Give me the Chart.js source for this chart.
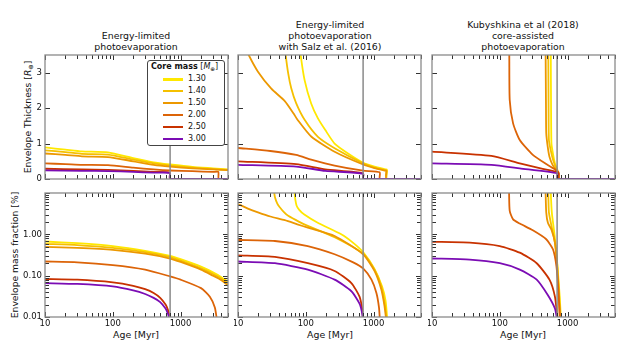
<!DOCTYPE html>
<html>
<head>
<meta charset="utf-8">
<script src="https://cdn.jsdelivr.net/npm/chart.js@4.4.0/dist/chart.umd.min.js"></script>
<style>
  body { margin: 0; background: #fff; font-family: "DejaVu Sans", sans-serif; color: #111; }
  #wrap { position: relative; width: 623px; height: 351px; overflow: hidden; background: #fff; }
  canvas { position: absolute; }
  .title { position: absolute; width: 200px; text-align: center; font-size: 9.4px; line-height: 10.8px; }
  .xlab { position: absolute; top: 329px; width: 120px; text-align: center; font-size: 9.4px; }
  .ylab { position: absolute; white-space: nowrap; font-size: 9.2px; transform: translate(-50%, -50%) rotate(-90deg); }
  #legend { position: absolute; left: 147px; top: 60px; width: 76px; height: 84px; background: #fff;
            border: 1px solid #444; border-radius: 3px; z-index: 5; font-size: 8px; }
  #legend .head { position: absolute; left: 3px; top: 1px; white-space: nowrap; }
  #legend .row { position: absolute; left: 0; height: 12px; }
  #legend .swatch { position: absolute; left: 15px; top: 5px; width: 20px; height: 2.5px; }
  #legend .txt { position: absolute; left: 40px; top: 0; line-height: 12px; }
  sub { font-size: 70%; vertical-align: -2px; line-height: 0; }
</style>
</head>
<body>
<div id="wrap">
  <div class="title" style="left:36px; top:31px;">Energy-limited<br>photoevaporation</div>
  <div class="title" style="left:230px; top:20px;">Energy-limited<br>photoevaporation<br>with Salz et al. (2016)</div>
  <div class="title" style="left:423px; top:20px;">Kubyshkina et al (2018)<br>core-assisted<br>photoevaporation</div>
  <div class="ylab" style="left:27px; top:117px;">Envelope Thickness [<i>R</i><sub>⊕</sub>]</div>
  <div class="ylab" style="left:14px; top:255px;">Envelope mass fraction [%]</div>
  <div class="xlab" style="left:76px;">Age [Myr]</div>
  <div class="xlab" style="left:270px;">Age [Myr]</div>
  <div class="xlab" style="left:463px;">Age [Myr]</div>
  <div id="legend"><div class="head"><b>Core mass</b> [<i>M</i><sub>⊕</sub>]</div></div>
</div>
<script>
// --- data: [age Myr, value] ---
const coreMasses = ["1.30", "1.40", "1.50", "2.00", "2.50", "3.00"];
const lineColours = ["#ffe800", "#f5c000", "#ec9800", "#dc6408", "#c83200", "#7b0cb4"];
const systemAge = 700;
const ageRange = [10, 5000];
const ageTickLabels = [10, 100, 1000];
const thicknessRange = [0, 3.5];
const thicknessTickLabels = [0, 1, 2, 3];
const fractionRange = [0.01, 10];
const fractionTickLabels = [0.01, 0.1, 1];

// Envelope thickness [R_earth], energy-limited
const thickEnergy = [
  [[10,0.89],[20,0.83],[35,0.78],[85,0.75],[200,0.59],[400,0.47],[700,0.41],[1500,0.34],[3000,0.30],[5000,0.27]],
  [[10,0.81],[20,0.76],[35,0.71],[85,0.69],[200,0.55],[400,0.44],[700,0.38],[1500,0.32],[3000,0.28],[5000,0.26]],
  [[10,0.72],[20,0.68],[35,0.64],[85,0.62],[200,0.50],[400,0.40],[700,0.35],[1500,0.30],[3000,0.27],[5000,0.25]],
  [[10,0.44],[20,0.42],[35,0.40],[85,0.39],[200,0.32],[400,0.27],[700,0.24],[1500,0.22],[3000,0.20],[3600,0.20],[3650,0],[5000,0]],
  [[10,0.29],[35,0.27],[85,0.26],[200,0.23],[400,0.20],[690,0.18],[700,0],[5000,0]],
  [[10,0.245],[35,0.23],[85,0.225],[200,0.20],[400,0.18],[690,0.17],[700,0],[5000,0]]
];
// Envelope thickness, energy-limited with Salz et al. (2016)
const thickSalz = [
  [[82,3.8],[84,3.5],[96,2.79],[120,2.13],[151,1.71],[194,1.38],[266,1.0],[420,0.72],[700,0.46],[1030,0.35],[1500,0.27],[1570,0.26],[1580,0],[5000,0]],
  [[49,3.8],[50.5,3.5],[55,2.98],[61,2.56],[72,2.14],[96,1.67],[151,1.19],[266,0.87],[700,0.44],[1030,0.32],[1500,0.25],[1560,0.24],[1570,0],[5000,0]],
  [[14,3.6],[14.4,3.5],[19.7,3.03],[31,2.55],[49,2.2],[66,1.85],[75,1.68],[120,1.2],[266,0.77],[700,0.41],[1030,0.31],[1500,0.235],[1540,0.23],[1550,0],[5000,0]],
  [[10,0.875],[30,0.79],[72,0.68],[120,0.55],[266,0.38],[700,0.235],[1230,0.19],[1240,0],[5000,0]],
  [[10,0.50],[72,0.42],[194,0.27],[700,0.16],[705,0],[5000,0]],
  [[10,0.40],[72,0.35],[194,0.23],[700,0.15],[705,0],[5000,0]]
];
// Envelope thickness, Kubyshkina et al. (2018)
const thickKuby = [
  [[564,3.8],[565,3.5],[570,2.0],[578,1.0],[610,0.7],[650,0.44],[700,0.28],[740,0.13],[770,0],[5000,0]],
  [[518,3.8],[519,3.5],[524,2.0],[530,1.1],[565,0.8],[610,0.54],[660,0.35],[720,0.15],[760,0],[5000,0]],
  [[473,3.8],[474,3.5],[480,2.0],[484,1.3],[510,0.9],[540,0.63],[600,0.4],[700,0.2],[750,0.12],[755,0],[5000,0]],
  [[137,3.8],[138,3.5],[140,2.23],[157,1.57],[197,1.10],[307,0.68],[484,0.42],[700,0.235],[745,0.16],[750,0],[5000,0]],
  [[10,0.77],[75,0.65],[197,0.44],[400,0.30],[700,0.20],[720,0.17],[725,0],[5000,0]],
  [[10,0.44],[75,0.40],[197,0.30],[700,0.16],[710,0],[5000,0]]
];
// Envelope mass fraction [%], energy-limited
const fracEnergy = [
  [[10,0.67],[30,0.61],[100,0.52],[300,0.40],[700,0.30],[1000,0.25],[2000,0.165],[3000,0.12],[4000,0.092],[5000,0.072]],
  [[10,0.59],[30,0.55],[100,0.47],[300,0.37],[700,0.28],[1000,0.23],[2000,0.15],[3000,0.11],[4000,0.085],[5000,0.065]],
  [[10,0.50],[30,0.47],[100,0.42],[300,0.34],[700,0.26],[1000,0.215],[2000,0.14],[3000,0.10],[4000,0.078],[5000,0.058]],
  [[10,0.22],[30,0.21],[100,0.18],[300,0.14],[700,0.096],[1000,0.08],[2000,0.05],[2700,0.031],[3200,0.017],[3450,0.008]],
  [[10,0.083],[30,0.08],[100,0.069],[200,0.057],[300,0.047],[400,0.038],[500,0.029],[600,0.02],[650,0.015],[700,0.009]],
  [[10,0.066],[30,0.063],[100,0.055],[200,0.044],[300,0.036],[400,0.029],[500,0.023],[600,0.016],[650,0.012],[700,0.008]]
];
// Envelope mass fraction, Salz et al. (2016)
const fracSalz = [
  [[68,11],[70,7],[73,5],[80,3.9],[95,3.0],[150,1.9],[333,1.0],[500,0.62],[700,0.37],[1030,0.145],[1330,0.055],[1500,0.025],[1600,0.008]],
  [[34,11],[35,8],[38,5.5],[41,4.6],[48,3.4],[55,2.8],[80,2.0],[107,1.6],[266,0.85],[700,0.34],[1030,0.14],[1300,0.055],[1480,0.018],[1560,0.008]],
  [[10,5.4],[14,4.2],[19.7,3.4],[30,2.7],[49,2.2],[75,1.75],[107,1.45],[266,0.91],[700,0.33],[1030,0.13],[1300,0.046],[1450,0.018],[1540,0.008]],
  [[10,0.73],[35,0.69],[107,0.52],[266,0.33],[500,0.21],[700,0.15],[930,0.08],[1100,0.038],[1200,0.017],[1240,0.008]],
  [[10,0.31],[35,0.285],[107,0.2],[266,0.13],[470,0.066],[620,0.031],[680,0.015],[705,0.007]],
  [[10,0.22],[35,0.2],[107,0.14],[266,0.08],[470,0.042],[620,0.021],[680,0.012],[705,0.007]]
];
// Envelope mass fraction, Kubyshkina et al. (2018)
const fracKuby = [
  [[564,15],[565,10],[585,3.4],[628,1.3],[670,0.52],[715,0.14],[765,0.031],[800,0.008]],
  [[518,15],[519,10],[530,3.4],[578,1.6],[650,0.63],[700,0.2],[745,0.04],[785,0.008]],
  [[473,15],[474,10],[484,3.4],[512,1.9],[578,1.3],[650,0.63],[700,0.17],[745,0.031],[770,0.008]],
  [[136,15],[137,10],[140,3.7],[157,2.3],[197,1.82],[307,1.25],[484,0.76],[610,0.43],[684,0.17],[724,0.055],[765,0.012],[770,0.008]],
  [[10,0.66],[36,0.63],[100,0.52],[197,0.36],[350,0.2],[540,0.08],[650,0.031],[710,0.009]],
  [[10,0.26],[36,0.245],[100,0.2],[197,0.14],[350,0.08],[510,0.034],[650,0.016],[705,0.008]]
];

// --- layout ---
const colLeft = [45, 238, 432];
const rowTop = [55, 193];
const plotW = 183, plotH = 124;
const panels = [
  { series: thickEnergy, col: 0, row: 0 },
  { series: thickSalz, col: 1, row: 0 },
  { series: thickKuby, col: 2, row: 0 },
  { series: fracEnergy, col: 0, row: 1 },
  { series: fracSalz, col: 1, row: 1 },
  { series: fracKuby, col: 2, row: 1 }
];

// legend rows
const legendBox = document.getElementById("legend");
coreMasses.forEach((m, i) => {
  const row = document.createElement("div");
  row.className = "row";
  row.style.top = (12 + i * 11.9) + "px";
  row.innerHTML = `<div class="swatch" style="background:${lineColours[i]}"></div><div class="txt">${m}</div>`;
  legendBox.appendChild(row);
});

// inward ticks on four sides, frame and tick labels
function logTicks(min, max) {
  const out = [];
  for (let d = Math.floor(Math.log10(min)); d <= Math.ceil(Math.log10(max)); d++) {
    for (let k = 1; k <= 9; k++) {
      const v = +(k * Math.pow(10, d)).toPrecision(3);
      if (v >= min * 0.999 && v <= max * 1.001) out.push({ v, major: k === 1 });
    }
  }
  return out;
}

const framePlugin = {
  id: "frame",
  afterDraw(chart, args, opts) {
    const { ctx, chartArea: a, scales: { x, y } } = chart;
    ctx.save();
    ctx.strokeStyle = "#333";
    ctx.lineWidth = 1;
    const xt = logTicks(ageRange[0], ageRange[1]);
    xt.forEach(t => {
      const px = Math.round(x.getPixelForValue(t.v)) + 0.5;
      const len = t.major ? 5 : 4;
      ctx.beginPath();
      ctx.moveTo(px, a.bottom); ctx.lineTo(px, a.bottom - len);
      ctx.moveTo(px, a.top); ctx.lineTo(px, a.top + len);
      ctx.stroke();
    });
    const yt = opts.row === 0
      ? thicknessTickLabels.map(v => ({ v, major: true }))
      : logTicks(fractionRange[0], fractionRange[1]);
    yt.forEach(t => {
      const py = Math.round(y.getPixelForValue(t.v)) + 0.5;
      const len = t.major ? 5 : 4;
      ctx.beginPath();
      ctx.moveTo(a.left, py); ctx.lineTo(a.left + len, py);
      ctx.moveTo(a.right, py); ctx.lineTo(a.right - len, py);
      ctx.stroke();
    });
    ctx.strokeStyle = "#8a8a8a";
    ctx.lineWidth = 1.3;
    ctx.strokeRect(a.left, a.top, a.right - a.left, a.bottom - a.top);

    ctx.fillStyle = "#111";
    ctx.font = "8.5px 'DejaVu Sans'";
    if (opts.col === 0) {
      ctx.textAlign = "right";
      ctx.textBaseline = "middle";
      const labels = opts.row === 0 ? thicknessTickLabels : fractionTickLabels;
      labels.forEach(v => {
        const txt = opts.row === 0 ? String(v) : v.toFixed(2);
        ctx.fillText(txt, a.left - 3, y.getPixelForValue(v));
      });
    }
    if (opts.row === 1) {
      ctx.textAlign = "center";
      ctx.textBaseline = "top";
      ageTickLabels.forEach(v => ctx.fillText(String(v), x.getPixelForValue(v), a.bottom + 3));
    }
    ctx.restore();
  }
};

const wrap = document.getElementById("wrap");
panels.forEach(p => {
  const pad = { left: p.col === 0 ? 40 : 4, right: 4, top: 4, bottom: p.row === 1 ? 20 : 4 };
  const cv = document.createElement("canvas");
  const w = plotW + pad.left + pad.right, h = plotH + pad.top + pad.bottom;
  cv.width = w; cv.height = h;
  cv.style.left = (colLeft[p.col] - pad.left) + "px";
  cv.style.top = (rowTop[p.row] - pad.top) + "px";
  cv.style.width = w + "px"; cv.style.height = h + "px";
  wrap.appendChild(cv);

  const yRange = p.row === 0 ? thicknessRange : fractionRange;
  const datasets = p.series.map((pts, i) => ({
    label: coreMasses[i],
    data: pts.map(([a, v]) => ({ x: a, y: v })),
    borderColor: lineColours[i],
    borderWidth: 1.8,
    pointRadius: 0,
    fill: false,
    order: coreMasses.length - i
  }));
  datasets.push({
    label: "age",
    data: [{ x: systemAge, y: yRange[0] }, { x: systemAge, y: yRange[1] }],
    borderColor: "#8a8a8a",
    borderWidth: 1.5,
    pointRadius: 0,
    order: -1
  });

  new Chart(cv, {
    type: "line",
    data: { datasets },
    options: {
      responsive: false,
      animation: false,
      devicePixelRatio: 1,
      layout: { padding: pad },
      elements: { line: { tension: 0.2, capBezierPoints: true } },
      plugins: { legend: { display: false }, tooltip: { enabled: false }, frame: { row: p.row, col: p.col } },
      scales: {
        x: { type: "logarithmic", min: ageRange[0], max: ageRange[1], display: false },
        y: p.row === 0
          ? { type: "linear", min: yRange[0], max: yRange[1], display: false }
          : { type: "logarithmic", min: yRange[0], max: yRange[1], display: false }
      }
    },
    plugins: [framePlugin]
  });
});
</script>
</body>
</html>
